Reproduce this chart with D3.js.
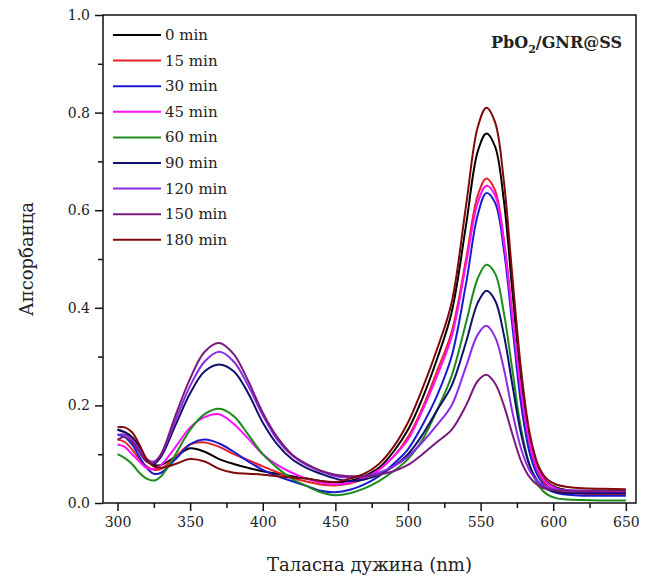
<!DOCTYPE html>
<html>
<meta charset="utf-8">
<head>
	<script src="https://d3js.org/d3.v7.min.js"></script>
	<style>
		body { margin: 0; background: #fff; }
		text { font-family: "DejaVu Serif", serif; fill: #222; }
		.axis path, .axis line { stroke: #111; stroke-width: 1.5px; }
		.axis text { font-size: 14px; }
		.curve { fill: none; stroke-width: 2px; stroke-linejoin: round; }
	</style>
</head>
<body>
<script>
	// wavelengths (nm)
	var wl = [300,305,310,315,320,325,330,340,350,360,370,380,390,400,410,420,430,440,450,460,470,480,490,500,510,520,530,540,548,554,560,566,572,578,584,590,596,602,610,620,635,650];

	var labels = ["0 min","15 min","30 min","45 min","60 min","90 min","120 min","150 min","180 min"];
	var colors = ["#000000","#e8202a","#1a1ad0","#ff10ff","#1c8c1c","#10106e","#8a2be8","#7a1a7a","#800a0a"];

	var a0 = [.15,.145,.135,.115,.09,.078,.078,.095,.112,.105,.09,.08,.072,.065,.06,.055,.05,.045,.042,.045,.055,.072,.105,.15,.215,.295,.39,.57,.72,.757,.73,.62,.43,.25,.13,.068,.042,.032,.026,.023,.022,.021];
	var a15 = [.13,.125,.11,.09,.075,.068,.07,.095,.12,.124,.115,.1,.088,.075,.063,.052,.044,.038,.036,.04,.05,.068,.095,.135,.195,.27,.35,.5,.63,.665,.64,.54,.38,.22,.115,.06,.035,.026,.021,.019,.018,.018];
	var a30 = [.14,.135,.12,.095,.072,.06,.062,.09,.12,.13,.122,.105,.085,.068,.055,.045,.035,.025,.022,.027,.038,.055,.08,.11,.16,.22,.3,.45,.59,.635,.615,.52,.36,.2,.1,.052,.03,.021,.017,.015,.015,.015];
	var a45 = [.12,.115,.1,.085,.072,.07,.078,.115,.155,.176,.182,.162,.132,.1,.078,.062,.05,.042,.038,.042,.052,.068,.095,.13,.19,.26,.34,.49,.615,.65,.63,.535,.38,.225,.12,.065,.04,.03,.025,.023,.022,.022];
	var a60 = [.1,.092,.08,.062,.05,.046,.055,.1,.15,.182,.193,.178,.14,.1,.072,.05,.035,.022,.016,.02,.03,.045,.065,.09,.13,.19,.26,.37,.46,.488,.47,.39,.27,.15,.075,.035,.017,.01,.007,.006,.005,.005];
	var a90 = [.15,.145,.13,.105,.085,.08,.095,.16,.225,.27,.284,.27,.225,.165,.12,.09,.072,.06,.05,.045,.048,.058,.075,.1,.14,.19,.24,.33,.41,.435,.415,.345,.24,.14,.075,.042,.028,.022,.02,.02,.02,.02];
	var a120 = [.14,.14,.13,.11,.09,.085,.1,.17,.24,.29,.31,.29,.24,.18,.13,.098,.078,.065,.055,.052,.055,.062,.075,.095,.125,.16,.2,.28,.345,.363,.34,.275,.185,.11,.065,.042,.032,.028,.026,.025,.025,.025];
	var a150 = [.13,.135,.125,.105,.085,.082,.1,.18,.255,.31,.328,.305,.25,.185,.135,.1,.08,.066,.058,.055,.055,.058,.065,.078,.1,.125,.15,.2,.25,.263,.245,.2,.14,.085,.052,.035,.028,.026,.025,.025,.025,.025];
	var a180 = [.155,.155,.145,.12,.09,.075,.072,.08,.09,.085,.07,.062,.06,.058,.055,.052,.05,.045,.043,.05,.06,.08,.115,.165,.235,.315,.41,.61,.77,.81,.78,.66,.46,.27,.14,.075,.048,.038,.033,.03,.029,.028];

	var series = [a0, a15, a30, a45, a60, a90, a120, a150, a180];

	var xTicks = [300,350,400,450,500,550,600,650];
	var yTicks = [0,0.2,0.4,0.6,0.8,1.0];

	var width = 652, height = 578;
	var mLeft = 103, mRight = 636, mTop = 15, mBottom = 503;

	var x = d3.scaleLinear().domain([290, 657]).range([mLeft, mRight]);
	var y = d3.scaleLinear().domain([0, 1]).range([mBottom, mTop]);

	var svg = d3.select("body").append("svg")
		.attr("width", width)
		.attr("height", height);

	// curves (drawn back to front so 180 min sits on top)
	var line = d3.line()
		.x(function(d, i) { return x(wl[i]); })
		.y(function(d) { return y(d); })
		.curve(d3.curveCatmullRom.alpha(0.5));

	series.forEach(function(s, i) {
		svg.append("path")
			.attr("class", "curve")
			.attr("stroke", colors[i])
			.attr("d", line(s));
	});

	// frame
	svg.append("rect")
		.attr("x", mLeft).attr("y", mTop)
		.attr("width", mRight - mLeft).attr("height", mBottom - mTop)
		.attr("fill", "none").attr("stroke", "#111").attr("stroke-width", 1.5);

	// x axis
	var xMinor = d3.range(325, 651, 50);
	svg.append("g").attr("class", "axis")
		.attr("transform", "translate(0," + mBottom + ")")
		.call(d3.axisBottom(x).tickValues(xMinor).tickSize(5).tickFormat(""))
		.call(function(g) { g.select(".domain").remove(); });
	svg.append("g").attr("class", "axis")
		.attr("transform", "translate(0," + mBottom + ")")
		.call(d3.axisBottom(x).tickValues(xTicks).tickSize(8).tickPadding(6).tickFormat(d3.format("d")))
		.call(function(g) { g.select(".domain").remove(); });

	// y axis
	var yMinor = [0.1,0.3,0.5,0.7,0.9];
	svg.append("g").attr("class", "axis")
		.attr("transform", "translate(" + mLeft + ",0)")
		.call(d3.axisLeft(y).tickValues(yMinor).tickSize(5).tickFormat(""))
		.call(function(g) { g.select(".domain").remove(); });
	svg.append("g").attr("class", "axis")
		.attr("transform", "translate(" + mLeft + ",0)")
		.call(d3.axisLeft(y).tickValues(yTicks).tickSize(8).tickPadding(5).tickFormat(d3.format(".1f")))
		.call(function(g) { g.select(".domain").remove(); });

	// axis titles
	svg.append("text")
		.attr("x", (mLeft + mRight) / 2).attr("y", 571)
		.attr("text-anchor", "middle")
		.style("font-size", "18px")
		.text("Таласна дужина (nm)");
	svg.append("text")
		.attr("transform", "translate(33," + ((mTop + mBottom) / 2) + ") rotate(-90)")
		.attr("text-anchor", "middle")
		.style("font-size", "18px")
		.text("Апсорбанца");

	// legend
	var leg = svg.append("g");
	labels.forEach(function(l, i) {
		var ly = 35 + i * 25.6;
		leg.append("line")
			.attr("x1", 113).attr("x2", 161)
			.attr("y1", ly).attr("y2", ly)
			.attr("stroke", colors[i]).attr("stroke-width", 2);
		leg.append("text")
			.attr("x", 165).attr("y", ly + 5)
			.style("font-size", "15px")
			.text(l);
	});

	// sample label
	var t = svg.append("text")
		.attr("x", 622).attr("y", 48)
		.attr("text-anchor", "end")
		.style("font-size", "16px").style("font-weight", "bold");
	t.append("tspan").text("PbO");
	t.append("tspan").attr("dy", 5).style("font-size", "11px").text("2");
	t.append("tspan").attr("dy", -5).text("/GNR@SS");
</script>
</body>
</html>
